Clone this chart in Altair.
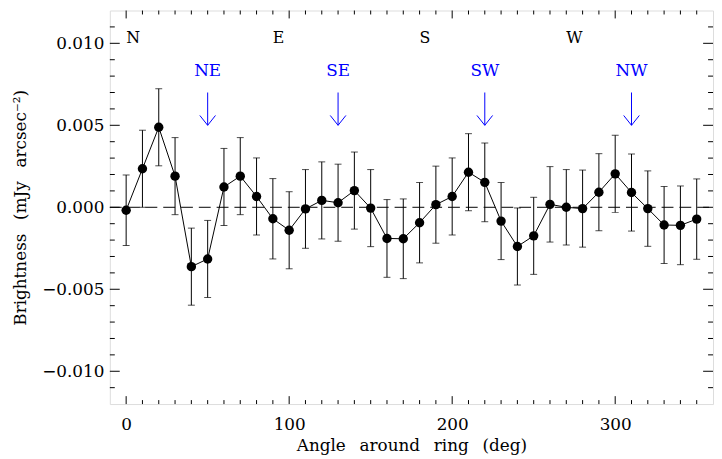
import altair as alt
import pandas as pd

# ---- data ----
angles = [0, 10, 20, 30, 40, 50, 60, 70, 80, 90, 100, 110, 120, 130, 140, 150, 160, 170,
          180, 190, 200, 210, 220, 230, 240, 250, 260, 270, 280, 290, 300, 310, 320, 330, 340, 350]
brightness = [-0.00018, 0.00235, 0.00488, 0.00190, -0.00362, -0.00315, 0.00124, 0.00190,
              0.00066, -0.00070, -0.00140, -0.00010, 0.00042, 0.00028, 0.00102, -0.00005,
              -0.00190, -0.00192, -0.00094, 0.00016, 0.00066, 0.00214, 0.00152, -0.00084,
              -0.00239, -0.00174, 0.00018, 0.00000, -0.00008, 0.00092, 0.00204, 0.00090,
              -0.00008, -0.00108, -0.00110, -0.00072]
errors = [0.00215, 0.00235, 0.00235, 0.00235, 0.00235, 0.00235, 0.00235, 0.00235,
          0.00235, 0.00245, 0.00235, 0.00240, 0.00235, 0.00235, 0.00235, 0.00235,
          0.00237, 0.00243, 0.00245, 0.00235, 0.00235, 0.00235, 0.00240, 0.00235,
          0.00235, 0.00235, 0.00230, 0.00230, 0.00235, 0.00235, 0.00235, 0.00235,
          0.00230, 0.00235, 0.00240, 0.00245]

compass_labels = ["N", "E", "S", "W"]
compass_angles = [0, 90, 180, 270]
compass_level = 0.010

diag_labels = ["NE", "SE", "SW", "NW"]
diag_angles = [50, 130, 220, 310]
diag_label_level = 0.008
arrow_top = 0.007
arrow_tip = 0.005

x_major = [0, 100, 200, 300]
x_minor = [10, 20, 30, 40, 50, 60, 70, 80, 90, 110, 120, 130, 140, 150, 160, 170, 180, 190,
           210, 220, 230, 240, 250, 260, 270, 280, 290, 310, 320, 330, 340, 350]
y_major = [-0.010, -0.005, 0.0, 0.005, 0.010]
y_minor = [-0.011, -0.009, -0.008, -0.007, -0.006, -0.004, -0.003, -0.002, -0.001,
           0.001, 0.002, 0.003, 0.004, 0.006, 0.007, 0.008, 0.009, 0.011]

x_domain = [-10, 360]
y_domain = [-0.012, 0.012]

x_title = "Angle \u2002around \u2002ring \u2002(deg)"
y_title = "Brightness \u2002(mJy \u2002arcsec⁻²)"

# ---- layout / style ----
W, H = 610, 398
FONT = "DejaVu Serif"
BLUE = "#0000ff"
HEAD_DX = 4.8      # arrow head half-width (deg)
HEAD_DY = 0.0006   # arrow head height (data units)

df = pd.DataFrame({"angle": angles, "val": brightness, "err": errors})
df["lo"] = df["val"] - df["err"]
df["hi"] = df["val"] + df["err"]

xs = alt.Scale(domain=x_domain, nice=False, zero=False)
ys = alt.Scale(domain=y_domain, nice=False, zero=False)

xa = alt.Axis(values=x_major, ticks=False, tickSize=0, domain=False, grid=False,
              labelFont=FONT, labelFontSize=17, labelColor="black", labelPadding=13,
              labelFlush=False,
              title=x_title, titleFont=FONT, titleFontSize=17,
              titleFontWeight="normal", titleColor="black", titleY=47,
              titleBaseline="alphabetic")
ya = alt.Axis(values=y_major, format=".3f", ticks=False, tickSize=0, domain=False, grid=False,
              labelFont=FONT, labelFontSize=17, labelColor="black", labelPadding=6,
              labelFlush=False,
              title=y_title, titleFont=FONT, titleFontSize=17,
              titleFontWeight="normal", titleColor="black", titleX=-85, titleY=H / 2,
              titleAngle=270, titleBaseline="alphabetic", titleAlign="center")

X = lambda f="angle": alt.X(f"{f}:Q", scale=xs, axis=xa)
Y = lambda f="val": alt.Y(f"{f}:Q", scale=ys, axis=ya)

base = alt.Chart(df)

zero_line = alt.Chart(pd.DataFrame({"val": [0.0]})).mark_rule(
    color="black", strokeWidth=1, strokeDash=[12, 6]
).encode(y=Y(), x=alt.value(0), x2=alt.value(W))

bars = base.mark_rule(color="black", strokeWidth=1).encode(
    x=X(), y=Y("lo"), y2="hi:Q")
cap_lo = base.mark_tick(color="black", orient="horizontal", size=7, thickness=1).encode(
    x=X(), y=Y("lo"))
cap_hi = base.mark_tick(color="black", orient="horizontal", size=7, thickness=1).encode(
    x=X(), y=Y("hi"))
line = base.mark_line(color="black", strokeWidth=1).encode(x=X(), y=Y())
points = base.mark_circle(color="black", size=90, opacity=1).encode(x=X(), y=Y())

compass = alt.Chart(pd.DataFrame({"angle": compass_angles, "label": compass_labels,
                                  "val": [compass_level] * len(compass_angles)})).mark_text(
    align="left", baseline="alphabetic", font=FONT, fontSize=16, color="black"
).encode(x=X(), y=Y(), text="label:N")

diag = alt.Chart(pd.DataFrame({"angle": diag_angles, "label": diag_labels,
                               "val": [diag_label_level] * len(diag_angles)})).mark_text(
    align="center", baseline="alphabetic", font=FONT, fontSize=17, color=BLUE
).encode(x=X(), y=Y(), text="label:N")

shaft_df = pd.DataFrame({"angle": diag_angles, "a2": diag_angles,
                         "val": [arrow_top] * 4, "v2": [arrow_tip] * 4})
head_rows = []
for a in diag_angles:
    for s in (-1, 1):
        head_rows.append({"angle": a + s * HEAD_DX, "a2": a,
                          "val": arrow_tip + HEAD_DY, "v2": arrow_tip})
seg_df = pd.concat([shaft_df, pd.DataFrame(head_rows)], ignore_index=True)
arrows = alt.Chart(seg_df).mark_rule(color=BLUE, strokeWidth=1).encode(
    x=X(), x2="a2:Q", y=Y(), y2="v2:Q")

xmaj_df = pd.DataFrame({"angle": x_major})
xmin_df = pd.DataFrame({"angle": x_minor})
ymaj_df = pd.DataFrame({"val": y_major})
ymin_df = pd.DataFrame({"val": y_minor})

tk = dict(color="black", strokeWidth=1)
ticks = [
    alt.Chart(xmaj_df).mark_rule(**tk).encode(x=X(), y=alt.value(H), y2=alt.value(H - 8)),
    alt.Chart(xmin_df).mark_rule(**tk).encode(x=X(), y=alt.value(H), y2=alt.value(H - 4)),
    alt.Chart(xmaj_df).mark_rule(**tk).encode(x=X(), y=alt.value(0), y2=alt.value(8)),
    alt.Chart(xmin_df).mark_rule(**tk).encode(x=X(), y=alt.value(0), y2=alt.value(4)),
    alt.Chart(ymaj_df).mark_rule(**tk).encode(y=Y(), x=alt.value(0), x2=alt.value(10)),
    alt.Chart(ymin_df).mark_rule(**tk).encode(y=Y(), x=alt.value(0), x2=alt.value(5)),
    alt.Chart(ymaj_df).mark_rule(**tk).encode(y=Y(), x=alt.value(W), x2=alt.value(W - 10)),
    alt.Chart(ymin_df).mark_rule(**tk).encode(y=Y(), x=alt.value(W), x2=alt.value(W - 5)),
]

chart = alt.layer(
    zero_line, bars, cap_lo, cap_hi, line, points, compass, diag, arrows, *ticks
).properties(
    width=W, height=H,
    autosize=alt.AutoSizeParams(type="none"),
    padding={"left": 103, "top": 0, "right": 1, "bottom": 52},
).configure_view(
    stroke="black", strokeWidth=1
).configure(background="white")

chart.save("out.html", embed_options={"renderer": "svg", "actions": False})
